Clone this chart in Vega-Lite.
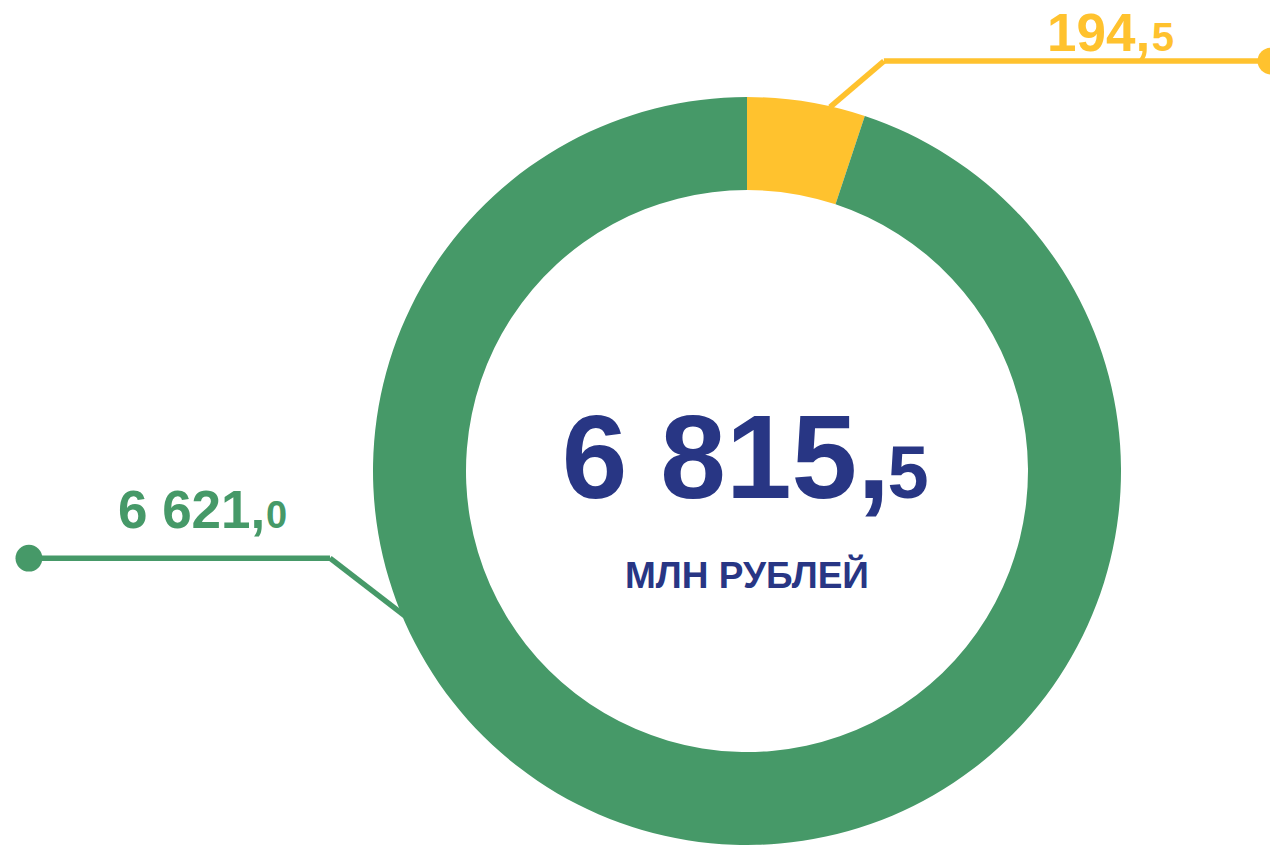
{
  "$schema": "https://vega.github.io/schema/vega-lite/v6.json",
  "width": 748,
  "height": 748,
  "autosize": {"type": "none"},
  "padding": {"left": 373, "top": 97, "right": 149, "bottom": 0},
  "background": "white",
  "config": {"view": {"stroke": null}, "font": "Liberation Sans"},
  "datasets": {
    "parts": [
      {"segment": "Сегмент 1", "value": 194.5, "share_drawn": 5.1, "order": 1, "int_part": "194,", "dec_part": "5"},
      {"segment": "Сегмент 2", "value": 6621.0, "share_drawn": 94.9, "order": 2, "int_part": "6 621,", "dec_part": "0"}
    ],
    "total": [
      {"value": 6815.5, "int_part": "6 815,", "dec_part": "5", "unit": "МЛН РУБЛЕЙ"}
    ],
    "one": [{}]
  },
  "layer": [
    {
      "data": {"name": "parts"},
      "mark": {"type": "arc", "radius": 374, "radius2": 281, "stroke": null},
      "encoding": {
        "theta": {"field": "share_drawn", "type": "quantitative", "stack": true},
        "order": {"field": "order", "type": "quantitative"},
        "color": {"field": "segment", "type": "nominal", "legend": null,
          "scale": {"domain": ["Сегмент 1", "Сегмент 2"], "range": ["#FFC22E", "#469968"]}}
      }
    },
    {
      "data": {"name": "one"},
      "mark": {"type": "rule", "color": "#FFC22E", "strokeWidth": 5.5},
      "encoding": {
        "x": {"datum": 0.222, "type": "quantitative", "scale": {"domain": [-1, 1], "nice": false, "zero": false}, "axis": null},
        "y": {"datum": 0.973, "type": "quantitative", "scale": {"domain": [-1, 1], "nice": false, "zero": false}, "axis": null},
        "x2": {"datum": 0.366},
        "y2": {"datum": 1.096}
      }
    },
    {
      "data": {"name": "one"},
      "mark": {"type": "rule", "color": "#FFC22E", "strokeWidth": 5.5},
      "encoding": {
        "x": {"datum": 0.366, "type": "quantitative", "scale": {"domain": [-1, 1], "nice": false, "zero": false}, "axis": null},
        "y": {"datum": 1.096, "type": "quantitative", "scale": {"domain": [-1, 1], "nice": false, "zero": false}, "axis": null},
        "x2": {"datum": 1.401},
        "y2": {"datum": 1.096}
      }
    },
    {
      "data": {"name": "one"},
      "mark": {"type": "point", "filled": true, "color": "#FFC22E", "opacity": 1, "size": 720},
      "encoding": {
        "x": {"datum": 1.401, "type": "quantitative", "scale": {"domain": [-1, 1], "nice": false, "zero": false}, "axis": null},
        "y": {"datum": 1.096, "type": "quantitative", "scale": {"domain": [-1, 1], "nice": false, "zero": false}, "axis": null}
      }
    },
    {
      "data": {"name": "one"},
      "mark": {"type": "rule", "color": "#469968", "strokeWidth": 5.5},
      "encoding": {
        "x": {"datum": -0.914, "type": "quantitative", "scale": {"domain": [-1, 1], "nice": false, "zero": false}, "axis": null},
        "y": {"datum": -0.388, "type": "quantitative", "scale": {"domain": [-1, 1], "nice": false, "zero": false}, "axis": null},
        "x2": {"datum": -1.115},
        "y2": {"datum": -0.233}
      }
    },
    {
      "data": {"name": "one"},
      "mark": {"type": "rule", "color": "#469968", "strokeWidth": 5.5},
      "encoding": {
        "x": {"datum": -1.115, "type": "quantitative", "scale": {"domain": [-1, 1], "nice": false, "zero": false}, "axis": null},
        "y": {"datum": -0.233, "type": "quantitative", "scale": {"domain": [-1, 1], "nice": false, "zero": false}, "axis": null},
        "x2": {"datum": -1.920},
        "y2": {"datum": -0.233}
      }
    },
    {
      "data": {"name": "one"},
      "mark": {"type": "point", "filled": true, "color": "#469968", "opacity": 1, "size": 720},
      "encoding": {
        "x": {"datum": -1.920, "type": "quantitative", "scale": {"domain": [-1, 1], "nice": false, "zero": false}, "axis": null},
        "y": {"datum": -0.233, "type": "quantitative", "scale": {"domain": [-1, 1], "nice": false, "zero": false}, "axis": null}
      }
    },
    {
      "data": {"name": "parts"},
      "transform": [{"filter": "datum.segment === 'Сегмент 1'"}],
      "mark": {"type": "text", "align": "left", "baseline": "alphabetic", "fontSize": 53, "fontWeight": "bold", "color": "#FFC22E"},
      "encoding": {
        "x": {"datum": 0.802, "type": "quantitative", "scale": {"domain": [-1, 1], "nice": false, "zero": false}, "axis": null},
        "y": {"datum": 1.123, "type": "quantitative", "scale": {"domain": [-1, 1], "nice": false, "zero": false}, "axis": null},
        "text": {"field": "int_part"}
      }
    },
    {
      "data": {"name": "parts"},
      "transform": [{"filter": "datum.segment === 'Сегмент 1'"}],
      "mark": {"type": "text", "align": "left", "baseline": "alphabetic", "fontSize": 40, "fontWeight": "bold", "color": "#FFC22E"},
      "encoding": {
        "x": {"datum": 1.082, "type": "quantitative", "scale": {"domain": [-1, 1], "nice": false, "zero": false}, "axis": null},
        "y": {"datum": 1.123, "type": "quantitative", "scale": {"domain": [-1, 1], "nice": false, "zero": false}, "axis": null},
        "text": {"field": "dec_part"}
      }
    },
    {
      "data": {"name": "parts"},
      "transform": [{"filter": "datum.segment === 'Сегмент 2'"}],
      "mark": {"type": "text", "align": "left", "baseline": "alphabetic", "fontSize": 53, "fontWeight": "bold", "color": "#469968"},
      "encoding": {
        "x": {"datum": -1.682, "type": "quantitative", "scale": {"domain": [-1, 1], "nice": false, "zero": false}, "axis": null},
        "y": {"datum": -0.152, "type": "quantitative", "scale": {"domain": [-1, 1], "nice": false, "zero": false}, "axis": null},
        "text": {"field": "int_part"}
      }
    },
    {
      "data": {"name": "parts"},
      "transform": [{"filter": "datum.segment === 'Сегмент 2'"}],
      "mark": {"type": "text", "align": "left", "baseline": "alphabetic", "fontSize": 38, "fontWeight": "bold", "color": "#469968"},
      "encoding": {
        "x": {"datum": -1.286, "type": "quantitative", "scale": {"domain": [-1, 1], "nice": false, "zero": false}, "axis": null},
        "y": {"datum": -0.152, "type": "quantitative", "scale": {"domain": [-1, 1], "nice": false, "zero": false}, "axis": null},
        "text": {"field": "dec_part"}
      }
    },
    {
      "data": {"name": "total"},
      "mark": {"type": "text", "align": "left", "baseline": "alphabetic", "fontSize": 118, "fontWeight": "bold", "color": "#283684"},
      "encoding": {
        "x": {"datum": -0.495, "type": "quantitative", "scale": {"domain": [-1, 1], "nice": false, "zero": false}, "axis": null},
        "y": {"datum": -0.072, "type": "quantitative", "scale": {"domain": [-1, 1], "nice": false, "zero": false}, "axis": null},
        "text": {"field": "int_part"}
      }
    },
    {
      "data": {"name": "total"},
      "mark": {"type": "text", "align": "left", "baseline": "alphabetic", "fontSize": 74, "fontWeight": "bold", "color": "#283684"},
      "encoding": {
        "x": {"datum": 0.376, "type": "quantitative", "scale": {"domain": [-1, 1], "nice": false, "zero": false}, "axis": null},
        "y": {"datum": -0.072, "type": "quantitative", "scale": {"domain": [-1, 1], "nice": false, "zero": false}, "axis": null},
        "text": {"field": "dec_part"}
      }
    },
    {
      "data": {"name": "total"},
      "mark": {"type": "text", "align": "center", "baseline": "alphabetic", "fontSize": 37, "fontWeight": "bold", "color": "#283684"},
      "encoding": {
        "x": {"datum": 0, "type": "quantitative", "scale": {"domain": [-1, 1], "nice": false, "zero": false}, "axis": null},
        "y": {"datum": -0.313, "type": "quantitative", "scale": {"domain": [-1, 1], "nice": false, "zero": false}, "axis": null},
        "text": {"field": "unit"}
      }
    }
  ]
}
